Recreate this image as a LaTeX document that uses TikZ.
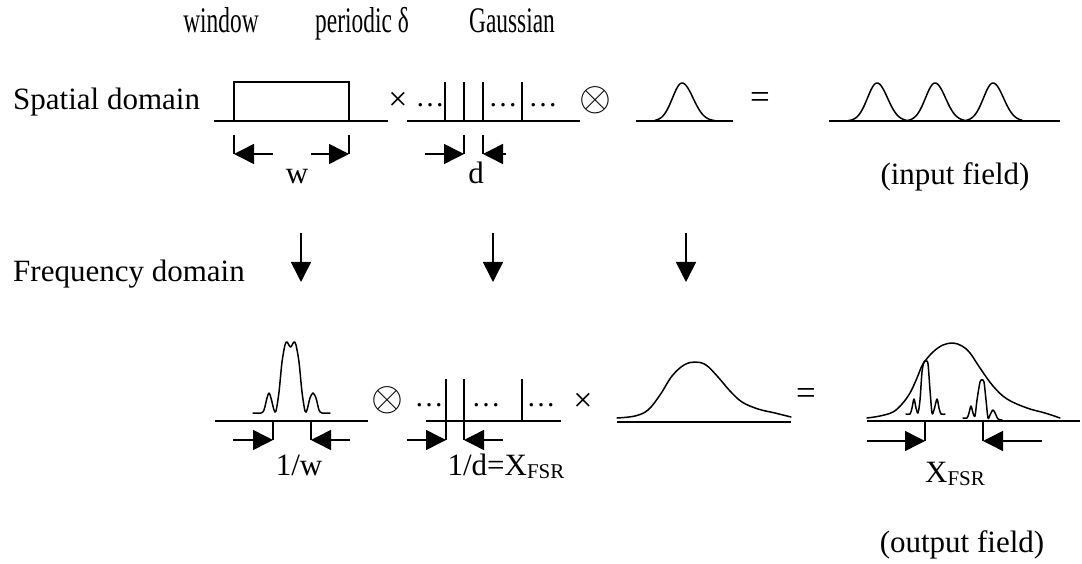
\documentclass[tikz,border=0pt]{standalone}
\usepackage{fontspec}
\setmainfont{Liberation Serif}
\usetikzlibrary{arrows.meta}
\tikzset{
  curve/.style={line width=1.5pt, line join=round, line cap=round},
  ln/.style={line width=1.5pt},
  arr/.style={line width=1.5pt, -{Triangle[length=20pt,width=20pt]}},
  txt/.style={inner sep=0pt, font=\fontsize{31}{36}\selectfont},
  toplbl/.style={inner sep=0pt, font=\fontsize{36}{40}\selectfont},
  op/.style={inner sep=0pt, font=\fontsize{34}{38}\selectfont},
  eqs/.style={inner sep=0pt, font=\fontsize{35}{40}\selectfont},
  otim/.style={inner sep=0pt, font=\fontsize{24.88}{30}\selectfont},
  dots/.style={inner sep=0pt, font=\fontsize{29}{34}\selectfont},
}
\newcommand{\fsr}{X\raisebox{-3pt}{\fontsize{21}{21}\selectfont FSR}}
\newcommand{\myconv}{\scalebox{1.65}{$\otimes$}}
\begin{document}
\begin{tikzpicture}[x=1pt,y=-1pt]
\useasboundingbox (0,0) rectangle (1082,564);

% ---------- top labels ----------
\node[toplbl, anchor=base] (lwin) at (221,33) {\scalebox{0.65}[1]{window}};
\node[toplbl, anchor=base] (lper) at (362,33) {\scalebox{0.65}[1]{periodic δ}};
\node[toplbl, anchor=base] (lgau) at (512,33) {\scalebox{0.65}[1]{Gaussian}};

\node[txt, anchor=base west] (lspat) at (13,110) {Spatial domain};
\node[txt, anchor=base west] (lfreq) at (13,282) {Frequency domain};

% ---------- spatial: window ----------
\draw[ln] (214,121) -- (388,121);
\draw[ln] (234,121) -- (234,82) -- (349,82) -- (349,121);
\coordinate (wl) at (234,135); \coordinate (wlb) at (234,154);
\coordinate (wr) at (349,135); \coordinate (wrb) at (349,154);
\coordinate (wlt) at (273,154); \coordinate (wrt) at (311,154);
\draw[ln] (wl) -- (wlb);
\draw[ln] (wr) -- (wrb);
\draw[arr] (wlt) -- (wlb);
\draw[arr] (wrt) -- (wrb);
\node[txt, anchor=base] (lw) at (297,184) {w};

\node[op] (times1) at (398,101) {×};

% ---------- spatial: comb ----------
\draw[ln] (407,121) -- (580,121);
\foreach \xx in {445,464,483,522} \draw[ln] (\xx,121) -- (\xx,82);
\node[dots] (d1) at (430,105) {…};
\node[dots] (d2) at (503,105) {…};
\node[dots] (d3) at (543,105) {…};
\coordinate (dl) at (464,135); \coordinate (dlb) at (464,154);
\coordinate (dr) at (483,135); \coordinate (drb) at (483,154);
\coordinate (dlt) at (425,154); \coordinate (drt) at (506,154);
\draw[ln] (dl) -- (dlb);
\draw[ln] (dr) -- (drb);
\draw[arr] (dlt) -- (dlb);
\draw[arr] (drt) -- (drb);
\node[txt, anchor=base] (ld) at (476,184) {d};

\node[otim] (conv1) at (595,100) {\myconv};

% ---------- spatial: gaussian ----------
\draw[ln] (636,121) -- (733,121);
\draw[curve] plot[domain=-27:33, samples=60] ({682+\x}, {121-38*exp(-(\x)^2/(2*((\x<0)?9.5:11)^2))});

\node[eqs] (eq1) at (760,101) {=};

% ---------- spatial: result ----------
\draw[ln] (829,121) -- (1060,121);
\foreach \cx in {877,935,993}
  \draw[curve] plot[domain=-29:29, samples=60] ({\cx+\x}, {121-38*exp(-(\x)^2/(2*((\x<0)?9.5:10.5)^2))});
\node[txt, anchor=base] (lin) at (955,185) {(input field)};

% ---------- down arrows ----------
\coordinate (a1s) at (301,233); \coordinate (a1e) at (301,282);
\coordinate (a2s) at (493,233); \coordinate (a2e) at (493,282);
\coordinate (a3s) at (686,233); \coordinate (a3e) at (686,282);
\draw[arr] (a1s) -- (a1e);
\draw[arr] (a2s) -- (a2e);
\draw[arr] (a3s) -- (a3e);

% ---------- frequency: sinc ----------
\draw[ln] (215,421) -- (368,421);
\draw[curve] plot[smooth, tension=0.5] coordinates {(253,413) (261,413) (264,410) (267,398) (269,393) (271,398) (274,410) (276,411) (279,392) (282,362) (285,345) (287,342) (290.5,347) (294,342) (296,345) (299,362) (302,392) (305,411) (307,410) (310,398) (313,393) (316,398) (319,410) (322,413) (330,413)};
\coordinate (sl) at (273,421); \coordinate (slb) at (273,440);
\coordinate (sr) at (311,421); \coordinate (srb) at (311,440);
\coordinate (slt) at (233,440); \coordinate (srt) at (350,440);
\draw[ln] (sl) -- (slb);
\draw[ln] (sr) -- (srb);
\draw[arr] (slt) -- (slb);
\draw[arr] (srt) -- (srb);
\node[txt, anchor=base] (l1w) at (299,475) {1/w};

\node[otim] (conv2) at (387,400) {\myconv};

% ---------- frequency: comb ----------
\draw[ln] (426,421) -- (561,421);
\foreach \xx in {446,464,522} \draw[ln] (\xx,421) -- (\xx,379);
\node[dots] (e1) at (429,405) {…};
\node[dots] (e2) at (486,405) {…};
\node[dots] (e3) at (541,405) {…};
\coordinate (cl) at (446,421); \coordinate (clb) at (446,440);
\coordinate (cr) at (464,421); \coordinate (crb) at (464,440);
\coordinate (clt) at (407,440); \coordinate (crt) at (503,440);
\draw[ln] (cl) -- (clb);
\draw[ln] (cr) -- (crb);
\draw[arr] (clt) -- (clb);
\draw[arr] (crt) -- (crb);
\node[txt, anchor=base] (l1d) at (506,475) {1/d=\fsr};

\node[op] (times2) at (583,402) {×};

% ---------- frequency: gaussian ----------
\draw[ln] (617,422) -- (791,422);
\draw[curve] plot[smooth, tension=0.6] coordinates {(617,418) (635,416) (648,410) (660,395) (672,376) (684,365) (695,362) (706,365) (718,377) (730,391) (742,402) (758,409) (775,413) (791,417)};

\node[eqs] (eq2) at (806,397) {=};

% ---------- frequency: result ----------
\draw[ln] (867,421) -- (1080,421);
\draw[curve] plot[smooth, tension=0.6] coordinates {(867,418) (880,416) (893,412) (902,404) (910,393) (917,378) (923,364) (933,352) (943,345) (953,343) (962,346) (970,353) (980,368) (993,386) (1007,399) (1027,408) (1045,413) (1060,418)};
\draw[curve] plot[smooth, tension=0.5] coordinates {(906,414) (910,414) (912,408) (914,399) (916,408) (918,413) (920,400) (922,372) (924,362) (926,361) (928,364) (930,390) (932,413) (934,410) (937,399) (939,408) (941,414) (945,414)};
\draw[curve] plot[smooth, tension=0.5] coordinates {(963,418) (967,418) (969,413) (971,406) (973,413) (975,416) (977,400) (980,382) (982,380) (984,382) (986,400) (988,418) (990,415) (993,410) (996,415) (998,419) (1002,420)};
\coordinate (ol) at (925,421); \coordinate (olb) at (925,441);
\coordinate (or) at (983,421); \coordinate (orb) at (983,441);
\coordinate (olt) at (867,441); \coordinate (ort) at (1042,441);
\draw[ln] (ol) -- (olb);
\draw[ln] (or) -- (orb);
\draw[arr] (olt) -- (olb);
\draw[arr] (ort) -- (orb);
\node[txt, anchor=base] (lfsr) at (955,482) {\fsr};
\node[txt, anchor=base] (lout) at (962,552) {(output field)};
\end{tikzpicture}
\end{document}
